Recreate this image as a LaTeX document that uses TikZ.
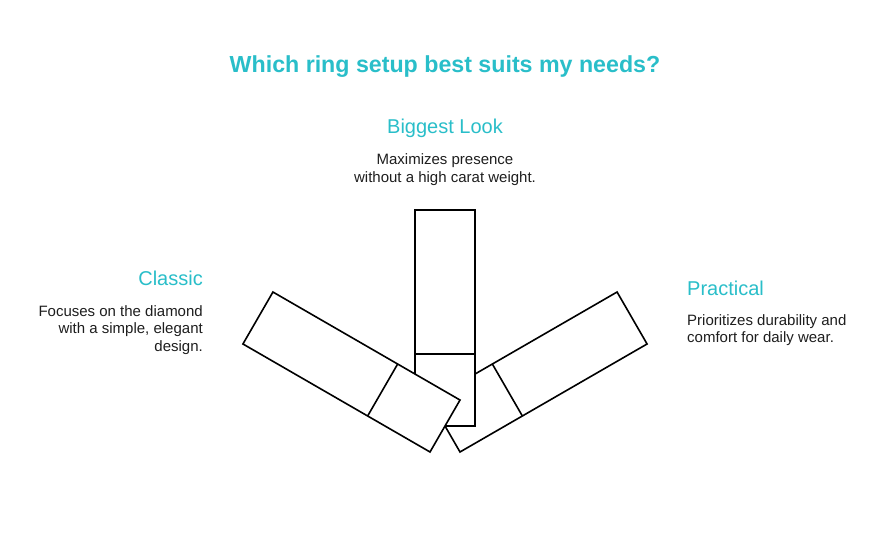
\documentclass[tikz,border=0pt]{standalone}
\usepackage{fontspec}
\setmainfont{Liberation Sans}
\definecolor{teal}{RGB}{41,190,201}
\definecolor{ink}{RGB}{30,30,30}
\begin{document}
\begin{tikzpicture}[x=1pt,y=-1pt,
  ringbar/.style={draw=black,line width=1.6pt,fill=white,line join=miter},
  divline/.style={draw=black,line width=1.6pt},
  heading/.style={text=teal,font=\fontsize{20}{22}\selectfont,inner sep=0pt},
  body/.style={text=ink,font=\fontsize{15}{17.5}\selectfont,inner sep=0pt},
  ]
\useasboundingbox[fill=white] (0,0) rectangle (890,559);
\coordinate (pivot) at (445,426);
% right bar (bottom layer)
\begin{scope}[rotate around={-60:(pivot)}]
  \draw[ringbar] (415,210) rectangle (475,426);
  \draw[divline] (415,354) -- (475,354);
\end{scope}
% vertical bar
\draw[ringbar] (415,210) rectangle (475,426);
\draw[divline] (415,354) -- (475,354);
% left bar (top layer)
\begin{scope}[rotate around={60:(pivot)}]
  \draw[ringbar] (415,210) rectangle (475,426);
  \draw[divline] (415,354) -- (475,354);
\end{scope}
% texts
\node[text=teal,font=\fontsize{23.2}{28}\selectfont\bfseries,inner sep=0pt,anchor=base] (title) at (445,73) {Which ring setup best suits my needs?};
\node[heading,anchor=base] (bigh) at (445,133) {Biggest Look};
\node[body,anchor=base] (bigb1) at (445,164.5) {Maximizes presence};
\node[body,anchor=base] (bigb2) at (445,182) {without a high carat weight.};
\node[heading,anchor=base east] (clh) at (203,285) {Classic};
\node[body,anchor=base east] (clb1) at (203,316) {Focuses on the diamond};
\node[body,anchor=base east] (clb2) at (203,333.5) {with a simple, elegant};
\node[body,anchor=base east] (clb3) at (203,351) {design.};
\node[heading,anchor=base west] (prh) at (687,295.5) {Practical};
\node[body,anchor=base west] (prb1) at (687,325) {Prioritizes durability and};
\node[body,anchor=base west] (prb2) at (687,342.5) {comfort for daily wear.};
\end{tikzpicture}
\end{document}
